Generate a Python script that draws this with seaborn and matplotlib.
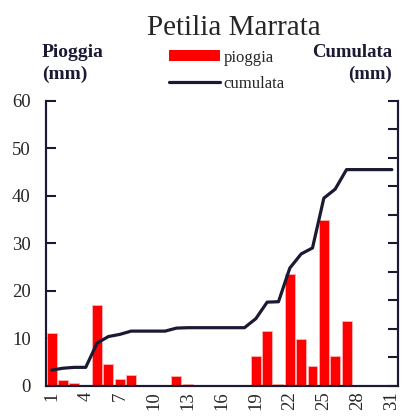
import matplotlib
matplotlib.use("Agg")
import matplotlib.pyplot as plt
import seaborn as sns
import numpy as np
from matplotlib.patches import Patch
from matplotlib.lines import Line2D

days = list(range(1, 32))
pioggia = [11.1, 1.3, 0.6, 0, 17.0, 4.6, 1.5, 2.3, 0, 0,
           0, 2.1, 0.3, 0, 0, 0, 0, 0, 6.3, 11.6,
           0.3, 23.6, 9.9, 4.2, 34.9, 6.3, 13.7, 0, 0, 0, 0]
cumulata = [11.1, 12.4, 13.0, 13.0, 30.0, 34.6, 36.1, 38.4, 38.4, 38.4,
            38.4, 40.5, 40.8, 40.8, 40.8, 40.8, 40.8, 40.8, 47.1, 58.7,
            59.0, 82.6, 92.5, 96.7, 131.6, 137.9, 151.6, 151.6, 151.6, 151.6, 151.6]
xticks = [1, 4, 7, 10, 13, 16, 19, 22, 25, 28, 31]

sns.set_style("white")
plt.rcParams['font.family'] = ['Liberation Serif', 'DejaVu Serif']
dark = '#1b1a33'

fig = plt.figure(figsize=(4.04, 4.19), dpi=100)
ax = fig.add_axes([0.114, 0.079, 0.870, 0.681])

sns.barplot(x=days, y=pioggia, native_scale=True, color='#ff0000', saturation=1,
            width=0.88, edgecolor='#ffb3b3', linewidth=0.6, ax=ax)
ax.set_xlim(0.5, 31.5)
ax.set_ylim(0, 60)
ax.set_yticks(range(0, 61, 10))
ax.set_xticks(xticks)
ax.set_xticklabels([str(t) for t in xticks], rotation=90, fontsize=13.5)
ax.tick_params(axis='y', direction='in', length=7, width=1.5, color=dark, labelsize=13.5, pad=11)
ax.tick_params(axis='x', length=0, pad=4)

ax2 = ax.twinx()
sns.lineplot(x=days, y=cumulata, color=dark, linewidth=2.3, ax=ax2)
ax2.set_ylim(0, 200)
ax2.set_yticks(range(0, 201, 20))
ax2.set_yticklabels([])
ax2.tick_params(axis='y', direction='in', length=7, width=1.5, color=dark)
ax2.set_xlim(0.5, 31.5)

for a in (ax, ax2):
    a.spines['top'].set_visible(False)
    for s in ('left', 'right', 'bottom'):
        a.spines[s].set_color(dark)
        a.spines[s].set_linewidth(1.5)
    a.set_xlabel('')
    a.set_ylabel('')

fig.text(0.58, 0.932, 'Petilia Marrata', ha='center', va='center', fontsize=21)
fig.text(0.104, 0.848, 'Pioggia\n(mm)', ha='left', va='center', fontsize=14,
         fontweight='bold', color=dark, linespacing=1.35)
fig.text(0.97, 0.848, 'Cumulata\n(mm)', ha='right', va='center', fontsize=13.5,
         fontweight='bold', color=dark, linespacing=1.4, multialignment='right')

handles = [Patch(facecolor='#ff0000', edgecolor='none'),
           Line2D([0], [0], color=dark, linewidth=2.3)]
fig.legend(handles, ['pioggia', 'cumulata'], loc='center', bbox_to_anchor=(0.561, 0.831),
           frameon=False, fontsize=12, handlelength=3.1, handletextpad=0.2,
           labelspacing=0.62, handleheight=0.6)

fig.savefig('out.png', dpi=100)
